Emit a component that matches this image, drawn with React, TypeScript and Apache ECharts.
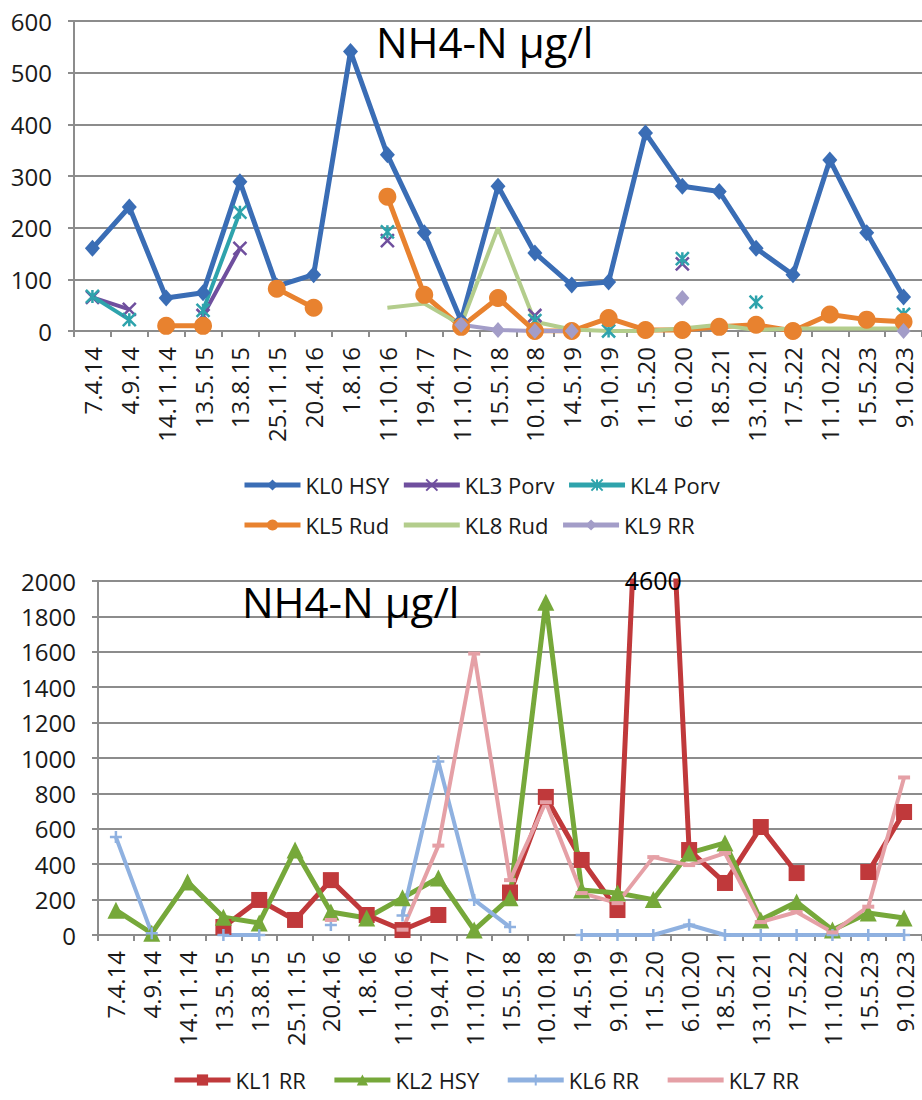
import React, { useEffect, useRef } from "react";
import * as echarts from "echarts";

const categories = [
  "7.4.14", "4.9.14", "14.11.14", "13.5.15", "13.8.15", "25.11.15", "20.4.16", "1.8.16",
  "11.10.16", "19.4.17", "11.10.17", "15.5.18", "10.10.18", "14.5.19", "9.10.19", "11.5.20",
  "6.10.20", "18.5.21", "13.10.21", "17.5.22", "11.10.22", "15.5.23", "9.10.23",
];

// Top chart (0..600)
const kl0 = [160, 240, 64, 74, 289, 87, 109, 541, 341, 190, 20, 280, 151, 89, 95, 383, 280, 270, 160, 109, 331, 190, 66];
const kl3 = [65, 42, null, 30, 160, null, null, null, 175, null, null, null, 30, null, null, null, 130, null, null, null, null, null, null];
const kl4 = [67, 22, null, 40, 230, null, null, null, 192, null, null, null, 20, null, 0, null, 140, null, 56, null, null, null, 32];
const kl5 = [null, null, 10, 10, null, 82, 45, null, 260, 70, 8, 64, 0, 0, 25, 2, 2, 8, 12, 0, 32, 22, 18];
const kl8 = [null, null, null, null, null, null, 32, null, 45, 53, 12, 200, 18, 3, 0, 0, 5, 12, 2, 5, 5, 5, 5];
const kl9 = [null, null, null, null, null, null, null, null, null, null, 12, 2, 0, 0, null, null, 64, null, null, null, null, null, 0];

// Bottom chart (0..2000)
const kl1 = [null, null, null, 45, 198, 85, 310, 113, 28, 113, null, 240, 780, 424, 141, 4600, 480, 294, 610, 350, null, 356, 695];
const kl2 = [140, 10, 300, 100, 68, 480, 130, 96, 210, 322, 28, 210, 1880, 254, 237, 200, 463, 520, 85, 186, 28, 124, 96];
const kl6 = [553, 10, null, 0, 0, null, 56, null, 110, 980, 198, 45, null, 0, 0, 0, 58, 0, 0, 0, 0, 0, 0];
const kl7 = [null, null, null, null, null, null, 85, null, 30, 505, 1590, 310, 750, 237, 180, 440, 395, 463, 73, 130, 15, 160, 890];

const titleText = "NH4-N µg/l";
const outlierLabel = "4600";
const outlierIndex = 15;

const FONT = "Open Sans";
const GRID = "#8c8c8c";
const TXT = "#1a1a1a";

const X_SYM = "path://M0,0L10,10M10,0L0,10";
const AST_SYM = "path://M0,0L10,10M10,0L0,10M5,0L5,10";
const PLUS_SYM = "path://M5,0L5,10M0,5L10,5";

function xAxis(gridIndex: number) {
  return {
    type: "category",
    gridIndex,
    data: categories,
    boundaryGap: true,
    axisLine: { show: true, lineStyle: { color: GRID, width: 2 } },
    axisTick: { show: true, length: 6, interval: 0, lineStyle: { color: GRID, width: 2 } },
    axisLabel: { rotate: 90, interval: 0, fontFamily: FONT, fontSize: 24, color: TXT, margin: 16 },
    splitLine: { show: false },
  };
}

function yAxis(gridIndex: number, max: number, interval: number) {
  return {
    type: "value",
    gridIndex,
    min: 0,
    max,
    interval,
    axisLine: { show: true, lineStyle: { color: GRID, width: 2 } },
    axisTick: { show: true, length: 6, lineStyle: { color: GRID, width: 2 } },
    axisLabel: { fontFamily: FONT, fontSize: 24, color: TXT, margin: 22, formatter: (v: number) => String(v) },
    splitLine: { show: true, lineStyle: { color: GRID, width: 2 } },
  };
}

function line(name: string, data: any[], idx: number, color: string, width: number, symbol: string, size: any, stroke = false) {
  return {
    name,
    type: "line",
    xAxisIndex: idx,
    yAxisIndex: idx,
    data,
    color,
    symbol,
    symbolSize: size,
    showSymbol: symbol !== "none",
    lineStyle: { color, width },
    itemStyle: { color: stroke ? "rgba(0,0,0,0)" : color, borderColor: color, borderWidth: stroke ? 2.5 : 0 },
    connectNulls: false,
    clip: true,
  };
}

const legendText = { fontFamily: FONT, fontSize: 22, color: TXT };
const legendLine = { width: 5 };

export default function App() {
  const ref = useRef<HTMLDivElement>(null);
  useEffect(() => {
    document.body.style.margin = "0";
    if (!ref.current) return;
    const chart = echarts.init(ref.current, undefined, { renderer: "svg" });

    const kl8Data = kl8.map((v, i) =>
      i === 6 ? { value: v, symbol: "rect", symbolSize: [12, 8] } : v
    );

    chart.setOption({
      animation: false,
      backgroundColor: "#ffffff",
      title: [
        { text: titleText, left: 376, top: 20, padding: 0, textStyle: { fontFamily: FONT, fontSize: 42, fontWeight: "normal", color: "#000" } },
        { text: titleText, left: 242, top: 580, padding: 0, textStyle: { fontFamily: FONT, fontSize: 42, fontWeight: "normal", color: "#000" } },
      ],
      grid: [
        { left: 74, top: 21, right: -3, height: 310, containLabel: false },
        { left: 98, top: 581, right: -13, height: 354, containLabel: false },
      ],
      xAxis: [xAxis(0), xAxis(1)],
      yAxis: [yAxis(0, 600, 100), yAxis(1, 2000, 200)],
      legend: [
        {
          data: ["KL0 HSY", "KL3 Porv", "KL4 Porv"],
          left: 242, top: 474, padding: 0, itemWidth: 56, itemHeight: 14, itemGap: 12,
          lineStyle: legendLine, textStyle: legendText,
        },
        {
          data: ["KL5 Rud", { name: "KL8 Rud", itemStyle: { color: "rgba(0,0,0,0)", borderWidth: 0 } }, "KL9 RR"],
          left: 242, top: 514, padding: 0, itemWidth: 56, itemHeight: 14, itemGap: 12,
          lineStyle: legendLine, textStyle: legendText,
        },
        {
          data: ["KL1 RR", "KL2 HSY", "KL6 RR", { name: "KL7 RR", itemStyle: { color: "rgba(0,0,0,0)", borderWidth: 0 } }],
          left: 172, top: 1069, padding: 0, itemWidth: 56, itemHeight: 14, itemGap: 26,
          lineStyle: legendLine, textStyle: legendText,
        },
      ],
      series: [
        line("KL0 HSY", kl0, 0, "#3a6db5", 5, "diamond", [15, 17]),
        line("KL3 Porv", kl3, 0, "#6f4f9e", 4, X_SYM, 13, true),
        line("KL4 Porv", kl4, 0, "#2ea3ac", 4, AST_SYM, 13, true),
        line("KL5 Rud", kl5, 0, "#e8822f", 5, "circle", 18),
        line("KL8 Rud", kl8Data, 0, "#b3cd8c", 4, "none", 0),
        line("KL9 RR", kl9, 0, "#a39dc8", 4, "diamond", [14, 16]),
        line("KL1 RR", kl1, 1, "#c0393b", 5, "rect", 16),
        line("KL2 HSY", kl2, 1, "#76a83a", 5, "triangle", 17),
        line("KL6 RR", kl6, 1, "#8fb1e0", 4, PLUS_SYM, 12, true),
        line("KL7 RR", kl7, 1, "#e5a0a6", 4, "rect", [12, 4]),
      ],
    });

    const px = chart.convertToPixel({ xAxisIndex: 1, yAxisIndex: 1 } as any, [outlierIndex, 2000]) as number[];
    if (px) {
      chart.setOption({
        graphic: [
          {
            type: "text",
            x: px[0],
            y: px[1] - 1,
            z: 100,
            style: { text: outlierLabel, fontFamily: FONT, fontSize: 25, fill: "#000", align: "center", verticalAlign: "middle" },
          },
        ],
      });
    }
    return () => chart.dispose();
  }, []);
  return <div ref={ref} style={{ width: 922, height: 1100 }} />;
}
